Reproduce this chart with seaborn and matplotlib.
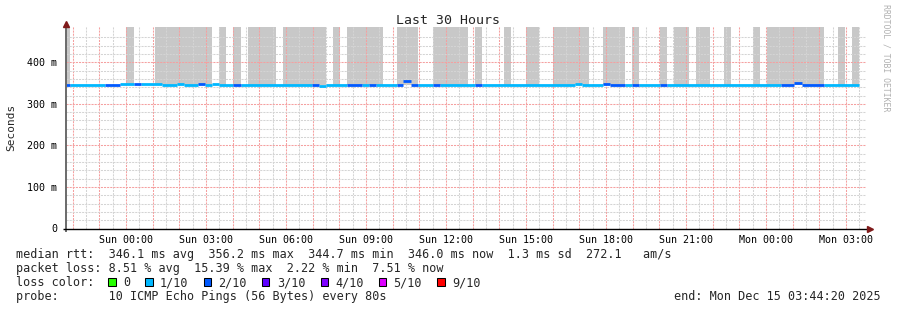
import numpy as np
import pandas as pd
import matplotlib
matplotlib.use("Agg")
import matplotlib.pyplot as plt
import seaborn as sns
from matplotlib.patches import Rectangle

# ---------------- data (hours relative to Sun 00:00, values in seconds) ----------------
seg_start = [-2.26, -2.10, -0.79, -0.22, 0.30, 0.56, 1.35, 1.91, 2.17, 2.70, 2.96, 3.22,
             3.49, 4.01, 4.31, 6.97, 7.24, 7.50, 8.29, 8.85, 9.11, 9.37, 10.16, 10.39,
             10.69, 10.95, 11.51, 11.77, 13.09, 13.35, 16.84, 17.10, 17.89, 18.15, 18.71,
             18.97, 19.24, 20.03, 20.29, 24.56, 25.05, 25.35, 26.17]
seg_end = [-2.10, -0.79, -0.22, 0.30, 0.56, 1.35, 1.91, 2.17, 2.70, 2.96, 3.22, 3.49,
           4.01, 4.31, 6.97, 7.24, 7.50, 8.29, 8.85, 9.11, 9.37, 10.16, 10.39, 10.69,
           10.95, 11.51, 11.77, 13.09, 13.35, 16.84, 17.10, 17.89, 18.15, 18.71, 18.97,
           19.24, 20.03, 20.29, 24.56, 25.05, 25.35, 26.17, 27.49]
seg_median = [0.3455, 0.3455, 0.3455, 0.348, 0.348, 0.348, 0.3455, 0.348, 0.3455, 0.348,
              0.3455, 0.348, 0.3455, 0.3455, 0.3455, 0.3455, 0.343, 0.3455, 0.3455, 0.3455,
              0.3455, 0.3455, 0.3455, 0.356, 0.3455, 0.3455, 0.3455, 0.3455, 0.3455, 0.3455,
              0.348, 0.3455, 0.348, 0.3455, 0.3455, 0.3455, 0.3455, 0.3455, 0.3455, 0.3455,
              0.351, 0.3455, 0.3455]
seg_loss = [2, 1, 2, 1, 2, 1, 1, 1, 1, 2, 1, 1, 1, 2, 1, 2, 1, 1, 2, 1, 2, 1, 2, 2, 2, 1,
            2, 1, 2, 1, 1, 1, 2, 2, 1, 2, 1, 2, 1, 2, 2, 2, 1]

smoke_start = [-2.26, 0.00, 1.09, 3.49, 4.01, 4.57, 5.89, 7.76, 8.29, 10.16, 11.51, 13.09,
               14.17, 15.00, 16.01, 17.89, 18.97, 20.03, 20.55, 21.37, 22.42, 23.51, 24.04,
               26.70, 27.22]
smoke_end = [-2.10, 0.30, 3.22, 3.75, 4.31, 5.62, 7.50, 8.02, 9.64, 10.95, 12.82, 13.35,
             14.44, 15.49, 17.36, 18.71, 19.24, 20.29, 21.11, 21.90, 22.69, 23.78, 26.17,
             26.96, 27.49]
smoke_low = 0.3455
smoke_high = 0.484

xtick_hours = [0, 3, 6, 9, 12, 15, 18, 21, 24, 27]
xtick_labels = ["Sun 00:00", "Sun 03:00", "Sun 06:00", "Sun 09:00", "Sun 12:00",
                "Sun 15:00", "Sun 18:00", "Sun 21:00", "Mon 00:00", "Mon 03:00"]
ytick_vals = [0.0, 0.1, 0.2, 0.3, 0.4]
ytick_labels = ["0", "100 m", "200 m", "300 m", "400 m"]

loss_labels = ["0", "1/10", "2/10", "3/10", "4/10", "5/10", "9/10"]
loss_colors = ["#26ff00", "#00b8ff", "#0059ff", "#5e00ff", "#7e00ff", "#dd00ff", "#ff0000"]
loss_levels = [0, 1, 2, 3, 4, 5, 9]

title = "Last 30 Hours"
ylabel = "Seconds"
line_rtt = "median rtt:  346.1 ms avg  356.2 ms max  344.7 ms min  346.0 ms now  1.3 ms sd  272.1   am/s"
line_loss = "packet loss: 8.51 % avg  15.39 % max  2.22 % min  7.51 % now"
line_color = "loss color:"
line_probe = "probe:       10 ICMP Echo Pings (56 Bytes) every 80s"
line_end = "end: Mon Dec 15 03:44:20 2025"
watermark = "RRDTOOL / TOBI OETIKER"

x_lo, x_hi = -2.261, 27.739
y_lo, y_hi = 0.0, 0.4874

# ---------------- style ----------------
sns.set_theme(style="white")
plt.rcParams["font.family"] = ["DejaVu Sans Mono"]
plt.rcParams["lines.solid_capstyle"] = "butt"
plt.rcParams["axes.axisbelow"] = False

W, H = 897, 310
fig = plt.figure(figsize=(W / 100, H / 100), dpi=100)
fig.patch.set_facecolor("white")

def fx(px):
    return px / W

def fy(py):
    return 1 - py / H

ax = fig.add_axes([fx(65.7), fy(228.5), 800 / W, 202.5 / H])
ax.set_facecolor("white")

# smoke
widths = [e - s for s, e in zip(smoke_start, smoke_end)]
ax.bar(smoke_start, [smoke_high - smoke_low] * len(smoke_start), width=widths,
       bottom=smoke_low, align="edge", color="#c8c8c8", linewidth=0, zorder=1)

# median line coloured by loss
rows = []
for i, (s, e, m, l) in enumerate(zip(seg_start, seg_end, seg_median, seg_loss)):
    rows.append({"seg": i, "hour": s, "median": m, "loss": l})
    rows.append({"seg": i, "hour": e, "median": m, "loss": l})
df = pd.DataFrame(rows)
palette = dict(zip(loss_levels, loss_colors))
used = sorted(df["loss"].unique())
sns.lineplot(data=df, x="hour", y="median", hue="loss", units="seg", estimator=None,
             palette={k: palette[k] for k in used}, linewidth=2.0, legend=False,
             ax=ax, zorder=4)

ax.set_xlim(x_lo, x_hi)
ax.set_ylim(y_lo, y_hi)

# grid
major_x = np.arange(-2, 28, 1)
minor_x = np.arange(-2, 28, 0.5)
ax.set_xticks(major_x)
ax.set_xticks(minor_x, minor=True)
lab_map = dict(zip(xtick_hours, xtick_labels))
ax.set_xticklabels([lab_map.get(int(h), "") for h in major_x])
ax.set_yticks(ytick_vals)
ax.set_yticks(np.arange(0, 0.48, 0.02), minor=True)
ax.set_yticklabels(ytick_labels)
ax.grid(which="minor", color="#d4d4d4", linestyle=(0, (2, 1)), linewidth=0.75, zorder=2)
ax.grid(which="major", color="#f5a0a0", linestyle=(0, (2, 1)), linewidth=0.75, zorder=2.5)
ax.tick_params(axis="both", which="both", length=0, labelsize=7.2, colors="black")
ax.tick_params(axis="x", pad=5)
ax.tick_params(axis="y", pad=6)
for sp in ax.spines.values():
    sp.set_visible(False)
ax.set_xlabel("")
ax.set_ylabel("")

# axes lines & arrows
ax.plot([0, 0], [-0.015, 1.0], transform=ax.transAxes, color="#6a6a6a", lw=1.4,
        clip_on=False, zorder=5)
ax.plot([-0.0035, 1.004], [0, 0], transform=ax.transAxes, color="black", lw=1.0,
        clip_on=False, zorder=5)
ax.plot([0.0005], [1.0105], marker="^", markersize=5, color="#7f1a1a",
        transform=ax.transAxes, clip_on=False, zorder=6)
ax.plot([1.0055], [0], marker=">", markersize=5, color="#7f1a1a",
        transform=ax.transAxes, clip_on=False, zorder=6)

# texts
fig.text(fx(448), fy(24), title, ha="center", va="baseline", fontsize=9.5)
fig.text(fx(11), fy(127), ylabel, ha="center", va="center", rotation=90, fontsize=8)
fig.text(fx(886), fy(4), watermark, ha="center", va="top", rotation=270,
         fontsize=5.9, color="#b0b0b0")

fs = 8.5
fig.text(fx(15.5), fy(258), line_rtt, ha="left", va="baseline", fontsize=fs)
fig.text(fx(15.5), fy(272), line_loss, ha="left", va="baseline", fontsize=fs)
fig.text(fx(15.5), fy(286), line_color, ha="left", va="baseline", fontsize=fs)
fig.text(fx(15.5), fy(300), line_probe, ha="left", va="baseline", fontsize=fs)
fig.text(fx(881), fy(300), line_end, ha="right", va="baseline", fontsize=fs)

bx = 108.3
for lab, col in zip(loss_labels, loss_colors):
    fig.patches.append(Rectangle((fx(bx), fy(285.7)), 7.2 / W, 7.4 / H,
                                 transform=fig.transFigure, facecolor=col,
                                 edgecolor="black", linewidth=0.75))
    fig.text(fx(bx + 14.5), fy(286), lab, ha="left", va="baseline", fontsize=fs)
    bx += 30 + 7.1 * len(lab)

fig.savefig("out.png", dpi=100, facecolor="white")
